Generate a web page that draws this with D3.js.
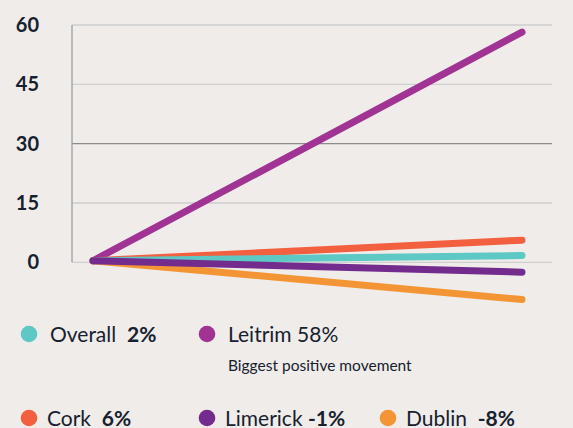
<!DOCTYPE html>
<html>
<head>
<meta charset="utf-8">
<script src="https://cdn.jsdelivr.net/npm/d3@7"></script>
<style>
  body { margin: 0; background: #efecea; }
  text { font-family: Lato, "Open Sans", sans-serif; fill: #17212e; }
</style>
</head>
<body>
<script>
// regions and their movement
var names = ['Overall', 'Leitrim', 'Cork', 'Limerick', 'Dublin'];
var startValues = [0.4, 0.4, 0.4, 0.4, 0.4];
var endValues = [1.7, 58.2, 5.6, -2.5, -9.4];
var labels = ['2%', '58%', '6%', '-1%', '-8%'];
var colors = ['#5ec8c4', '#a03393', '#f2603f', '#732b8e', '#f39535'];
var yTicks = [0, 15, 30, 45, 60];
var periods = ['start', 'end'];

var width = 573, height = 428;
var svg = d3.select('body').append('svg').attr('width', width).attr('height', height);

var y = d3.scaleLinear().domain([0, 60]).range([262.3, 25]);
var x = d3.scalePoint().domain(periods).range([93, 522]);

// gridlines
svg.append('g').selectAll('line')
    .data(yTicks)
    .enter().append('line')
    .attr('x1', 72).attr('x2', 552)
    .attr('y1', function (d) { return y(d); })
    .attr('y2', function (d) { return y(d); })
    .attr('stroke', function (d) { return d == 30 ? '#8a8c8e' : '#cfcfcf'; })
    .attr('stroke-width', 1.3);

svg.append('line')
    .attr('x1', 72).attr('x2', 72)
    .attr('y1', y(60)).attr('y2', y(0))
    .attr('stroke', '#9aa0a4').attr('stroke-width', 1.3);

// tick labels
svg.append('g').selectAll('text')
    .data(yTicks)
    .enter().append('text')
    .attr('x', 39)
    .attr('y', function (d) { return y(d) + 7; })
    .attr('text-anchor', 'end')
    .attr('font-size', 20)
    .attr('font-weight', 'bold')
    .text(function (d) { return d; });

var line = d3.line()
    .x(function (d) { return x(d[0]); })
    .y(function (d) { return y(d[1]); });

var order = [1, 2, 0, 4, 3];
svg.append('g').selectAll('path')
    .data(order)
    .enter().append('path')
    .attr('d', function (i) { return line([['start', startValues[i]], ['end', endValues[i]]]); })
    .attr('fill', 'none')
    .attr('stroke', function (i) { return colors[i]; })
    .attr('stroke-width', 7)
    .attr('stroke-linecap', 'round');

// legend
var legendPos = [[29, 334], [207, 334], [29, 418], [207, 418], [388, 418]];
var gap = ['\u00a0\u00a0', ' ', '\u00a0\u00a0', ' ', '\u00a0\u00a0'];
var boldLabel = [true, false, true, true, true];

var leg = svg.append('g').selectAll('g')
    .data(names)
    .enter().append('g')
    .attr('transform', function (d, i) { return 'translate(' + legendPos[i][0] + ',' + legendPos[i][1] + ')'; });

leg.append('circle')
    .attr('r', 8.3)
    .attr('fill', function (d, i) { return colors[i]; });

var lt = leg.append('text')
    .attr('x', function (d, i) { return i == 0 || i == 1 ? 21 : 18; })
    .attr('y', 7.5)
    .attr('font-size', 21);
lt.append('tspan').text(function (d, i) { return d + gap[i]; });
lt.append('tspan')
    .attr('font-weight', function (d, i) { return boldLabel[i] ? 'bold' : 'normal'; })
    .text(function (d, i) { return labels[i]; });

svg.append('text')
    .attr('x', 228).attr('y', 371)
    .attr('font-size', 15.5)
    .text('Biggest positive movement');
</script>
</body>
</html>
